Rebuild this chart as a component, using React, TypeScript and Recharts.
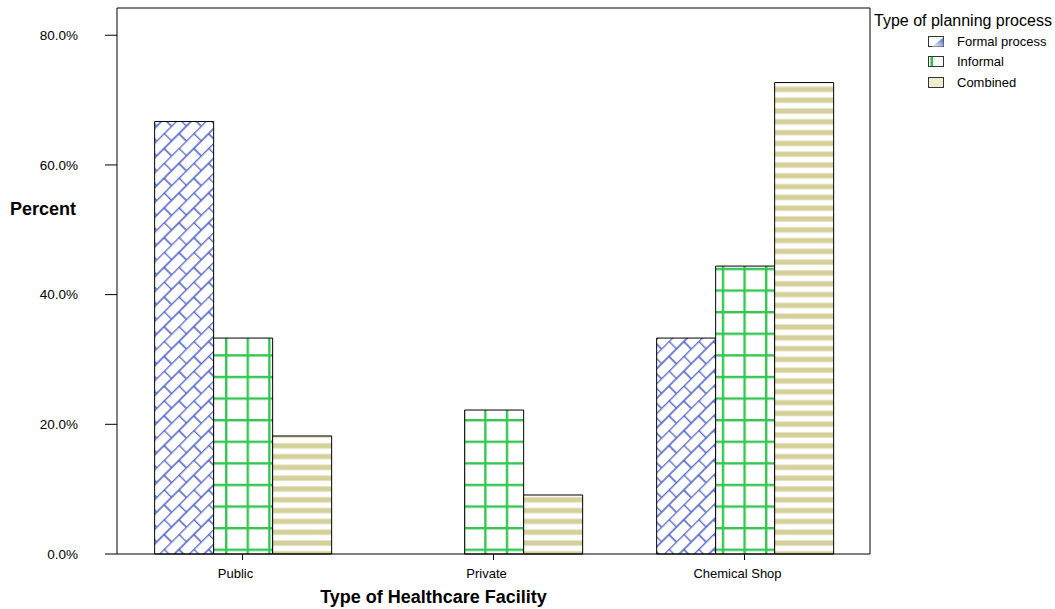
import { BarChart, Bar, XAxis, YAxis } from 'recharts'

const categories = ['Public', 'Private', 'Chemical Shop']
const formal = [66.7, 0, 33.3]
const informal = [33.3, 22.2, 44.4]
const combined = [18.2, 9.1, 72.7]
const yTicks = [0, 20, 40, 60, 80]
const seriesNames = ['Formal process', 'Informal', 'Combined']

const data = categories.map((c, i) => ({
  name: c,
  formal: formal[i],
  informal: informal[i],
  combined: combined[i],
}))

const FONT = '"Liberation Sans", Arial, sans-serif'
const pct = (v: number) => `${v.toFixed(1)}%`

function Patterns() {
  return (
    <defs>
      <pattern id="brick" patternUnits="userSpaceOnUse" width={21} height={21}
        patternTransform="rotate(-45)">
        <rect width={21} height={21} fill="#fff" />
        <g stroke="#4a60c6" strokeWidth={1.7} strokeOpacity={0.9}>
          <line x1={0} y1={0.5} x2={21} y2={0.5} />
          <line x1={0} y1={11} x2={21} y2={11} />
          <line x1={0.5} y1={0} x2={0.5} y2={11} />
          <line x1={11} y1={11} x2={11} y2={21} />
        </g>
      </pattern>
      <pattern id="grid" patternUnits="userSpaceOnUse" width={21.6} height={21.6} x={9} y={8.6}>
        <rect width={21.6} height={21.6} fill="#fff" />
        <g stroke="#35c652" strokeWidth={2.4}>
          <line x1={0} y1={1.2} x2={21.6} y2={1.2} />
          <line x1={1.2} y1={0} x2={1.2} y2={21.6} />
        </g>
      </pattern>
      <pattern id="stripes" patternUnits="userSpaceOnUse" width={10} height={10.8}>
        <rect width={10} height={10.8} fill="#fff" />
        <rect y={0} width={10} height={6} fill="#e6e3c2" />
        <rect y={1} width={10} height={4} fill="#d4d09a" />
      </pattern>
    </defs>
  )
}

function Swatch({ idx }: { idx: number }) {
  return (
    <svg width={16} height={11} style={{ display: 'block' }}>
      {idx === 0 && (
        <>
          <defs>
            <linearGradient id="swf" x1="0" y1="1" x2="1" y2="0">
              <stop offset="0%" stopColor="#ffffff" />
              <stop offset="100%" stopColor="#4a62c8" />
            </linearGradient>
          </defs>
          <rect x={0.5} y={0.5} width={15} height={10} fill="#fff" stroke="#333" />
          <polygon points="4,10.5 15.5,10.5 15.5,1.5" fill="url(#swf)" />
        </>
      )}
      {idx === 1 && (
        <>
          <rect x={0.5} y={0.5} width={15} height={10} fill="#fff" stroke="#333" />
          <rect x={2.5} y={1} width={2.5} height={9} fill="#2fc24a" />
        </>
      )}
      {idx === 2 && (
        <rect x={0.5} y={0.5} width={15} height={10} fill="#efedcf" stroke="#333" />
      )}
    </svg>
  )
}

function LegendBox() {
  return (
    <div style={{ position: 'absolute', left: 874, top: 11, fontFamily: FONT, color: '#000' }}>
      <div style={{ fontSize: 16, lineHeight: '20px', whiteSpace: 'nowrap' }}>Type of planning process</div>
      {seriesNames.map((n, i) => (
        <div key={n} style={{ display: 'flex', alignItems: 'center', height: 20.5, marginLeft: 54 }}>
          <Swatch idx={i} />
          <span style={{ fontSize: 13, marginLeft: 13, whiteSpace: 'nowrap' }}>{n}</span>
        </div>
      ))}
    </div>
  )
}

export default function App() {
  return (
    <div style={{ position: 'absolute', left: 0, top: 0, width: 1055, height: 609, background: '#fff' }}>
      <BarChart width={1055} height={609} data={data}
        margin={{ top: 7, right: 184, bottom: 0, left: 0 }}
        barCategoryGap="15%" barGap={0}
        style={{ fontFamily: FONT }}>
        <Patterns />
        <XAxis dataKey="name" height={55} tickSize={6} tickMargin={9}
          axisLine={{ stroke: '#000' }} tickLine={{ stroke: '#000' }}
          tick={{ fill: '#000', fontSize: 13, dx: -7 }}
          label={{ value: 'Type of Healthcare Facility', position: 'insideBottom', offset: 6, dx: -60,
            style: { fill: '#000', fontSize: 18, fontWeight: 'bold' } }} />
        <XAxis xAxisId="top" orientation="top" dataKey="name" height={1}
          tick={false} tickLine={false} axisLine={{ stroke: '#000' }} />
        <YAxis width={117} domain={[0, 84.2]} ticks={yTicks} tickFormatter={pct}
          tickSize={12} tickMargin={27} interval={0}
          axisLine={{ stroke: '#000' }} tickLine={{ stroke: '#000' }}
          tick={{ fill: '#000', fontSize: 13.5 }}
          label={{ value: 'Percent', position: 'insideLeft', offset: 10, dy: -72,
            style: { fill: '#000', fontSize: 18, fontWeight: 'bold', textAnchor: 'start' } }} />
        <YAxis yAxisId="right" orientation="right" width={1} tick={false} tickLine={false}
          axisLine={{ stroke: '#000' }} />
        <Bar dataKey="formal" fill="url(#brick)" stroke="#000" strokeWidth={1} isAnimationActive={false} />
        <Bar dataKey="informal" fill="url(#grid)" stroke="#000" strokeWidth={1} isAnimationActive={false} />
        <Bar dataKey="combined" fill="url(#stripes)" stroke="#000" strokeWidth={1} isAnimationActive={false} />
      </BarChart>
      <LegendBox />
    </div>
  )
}
